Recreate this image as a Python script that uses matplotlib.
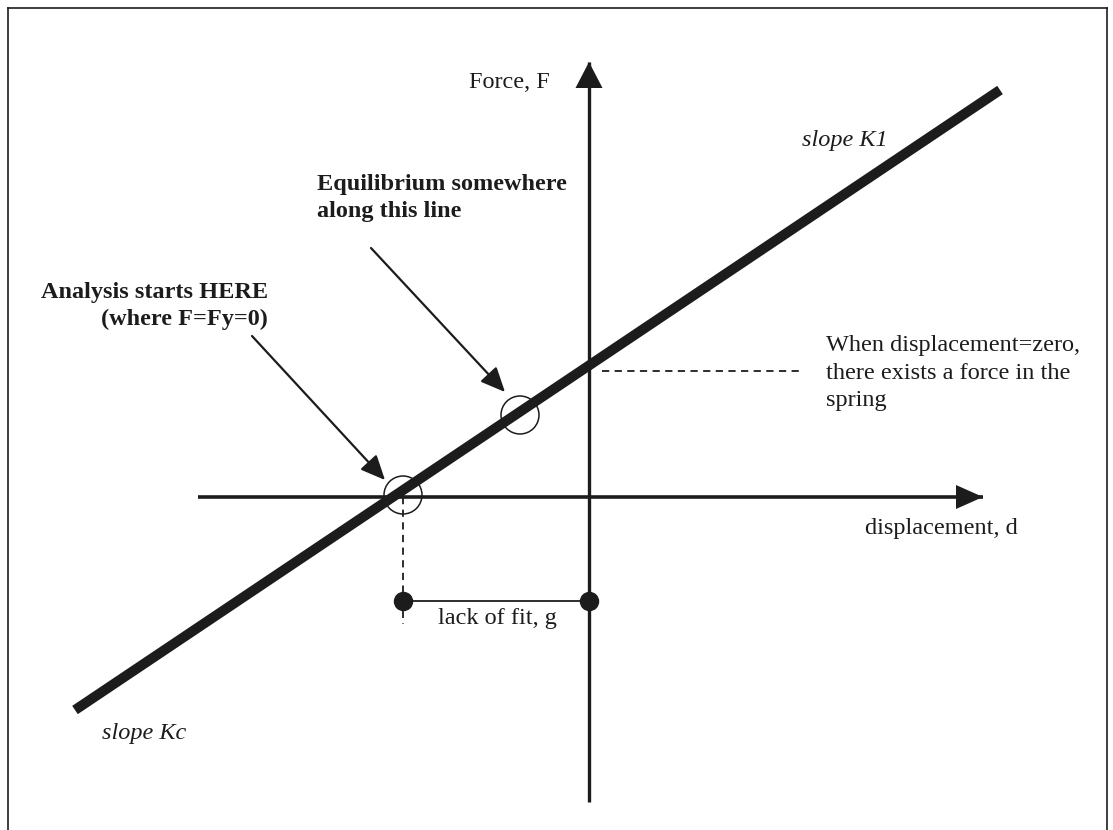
import matplotlib
matplotlib.use("Agg")
from matplotlib import pyplot as plt
from matplotlib.patches import Circle
from matplotlib.lines import Line2D

plt.rcParams['font.family'] = ['Liberation Serif', 'DejaVu Serif']

ink = '#1c1c1c'

# diagram coordinates: d along the horizontal axis, F along the vertical one
spring_d = [-5.14, 4.11]
spring_F = [-2.13, 4.07]

d_axis = [-3.91, 3.94]
F_axis = [-3.05, 4.35]

circle_d = [-1.86, -0.69]
circle_F = [0.02, 0.82]
circle_r = 0.19

gap_d = [-1.86, 0.0]
gap_F = -1.04
drop_F = [0.0, -1.27]

offset_F = 1.26
offset_d = [0.13, 2.13]

arrow_from = [(-3.37, 1.61), (-2.18, 2.49)]
arrow_to = [(-2.04, 0.17), (-0.84, 1.05)]

fig = plt.figure(figsize=(11.13, 8.30), dpi=100)
ax = fig.add_axes([0, 0, 1, 1])
ax.set_xlim(-5.89, 5.24)
ax.set_ylim(-3.33, 4.97)
ax.axis('off')

# frame round the picture
for xs, ys in [([8, 8], [0, 822]), ([8, 1107], [822, 822]), ([1107, 1107], [0, 822])]:
    fig.add_artist(Line2D([x / 1113 for x in xs], [y / 830 for y in ys],
                          color=ink, lw=1.2))

# axes with arrow heads
ax.plot(d_axis, [0, 0], color=ink, lw=2.6, solid_capstyle='butt')
ax.arrow(d_axis[1] - 0.3, 0, 0.3, 0, width=0.0, head_width=0.24, head_length=0.27,
         length_includes_head=True, color=ink, lw=0)
ax.plot([0, 0], F_axis, color=ink, lw=2.4, solid_capstyle='butt')
ax.arrow(0, F_axis[1] - 0.3, 0, 0.3, width=0.0, head_width=0.27, head_length=0.26,
         length_includes_head=True, color=ink, lw=0)

# spring line
ax.plot(spring_d, spring_F, color=ink, lw=7.2, solid_capstyle='butt')

for cd, cf in zip(circle_d, circle_F):
    ax.add_patch(Circle((cd, cf), circle_r, fill=False, ec=ink, lw=1.1))

# lack of fit
ax.plot([gap_d[0], gap_d[0]], drop_F, color=ink, lw=1.3, ls=(0, (4, 3)))
ax.plot(gap_d, [gap_F, gap_F], color=ink, lw=1.3)
ax.plot(gap_d, [gap_F, gap_F], 'o', color=ink, ms=13)

ax.plot(offset_d, [offset_F, offset_F], color=ink, lw=1.3, ls=(0, (4, 3)))

for start, end in zip(arrow_from, arrow_to):
    ax.annotate('', xy=end, xytext=start,
                arrowprops=dict(arrowstyle='-|>,head_length=0.6,head_width=0.27',
                                mutation_scale=25, color=ink, lw=1.6,
                                shrinkA=0, shrinkB=0))

fs = 17.5
ls = 1.4
ax.text(-0.39, 4.15, 'Force, F', ha='right', va='center', fontsize=fs, color=ink)
ax.text(2.13, 3.57, 'slope K1', ha='left', va='center', fontsize=fs,
        style='italic', color=ink)
ax.text(-2.72, 2.99, 'Equilibrium somewhere\nalong this line', ha='left',
        va='center', fontsize=fs, weight='bold', color=ink, linespacing=ls)
ax.text(-3.21, 1.91, 'Analysis starts HERE\n(where F=Fy=0)', ha='right',
        va='center', multialignment='right', fontsize=fs, weight='bold',
        color=ink, linespacing=ls)
ax.text(2.37, 1.24, 'When displacement=zero,\nthere exists a force in the\nspring',
        ha='left', va='center', fontsize=fs, color=ink, linespacing=ls)
ax.text(2.76, -0.31, 'displacement, d', ha='left', va='center', fontsize=fs, color=ink)
ax.text(-0.92, -1.21, 'lack of fit, g', ha='center', va='center', fontsize=fs, color=ink)
ax.text(-4.87, -2.36, 'slope Kc', ha='left', va='center', fontsize=fs,
        style='italic', color=ink)

fig.savefig('out.png', dpi=100)
